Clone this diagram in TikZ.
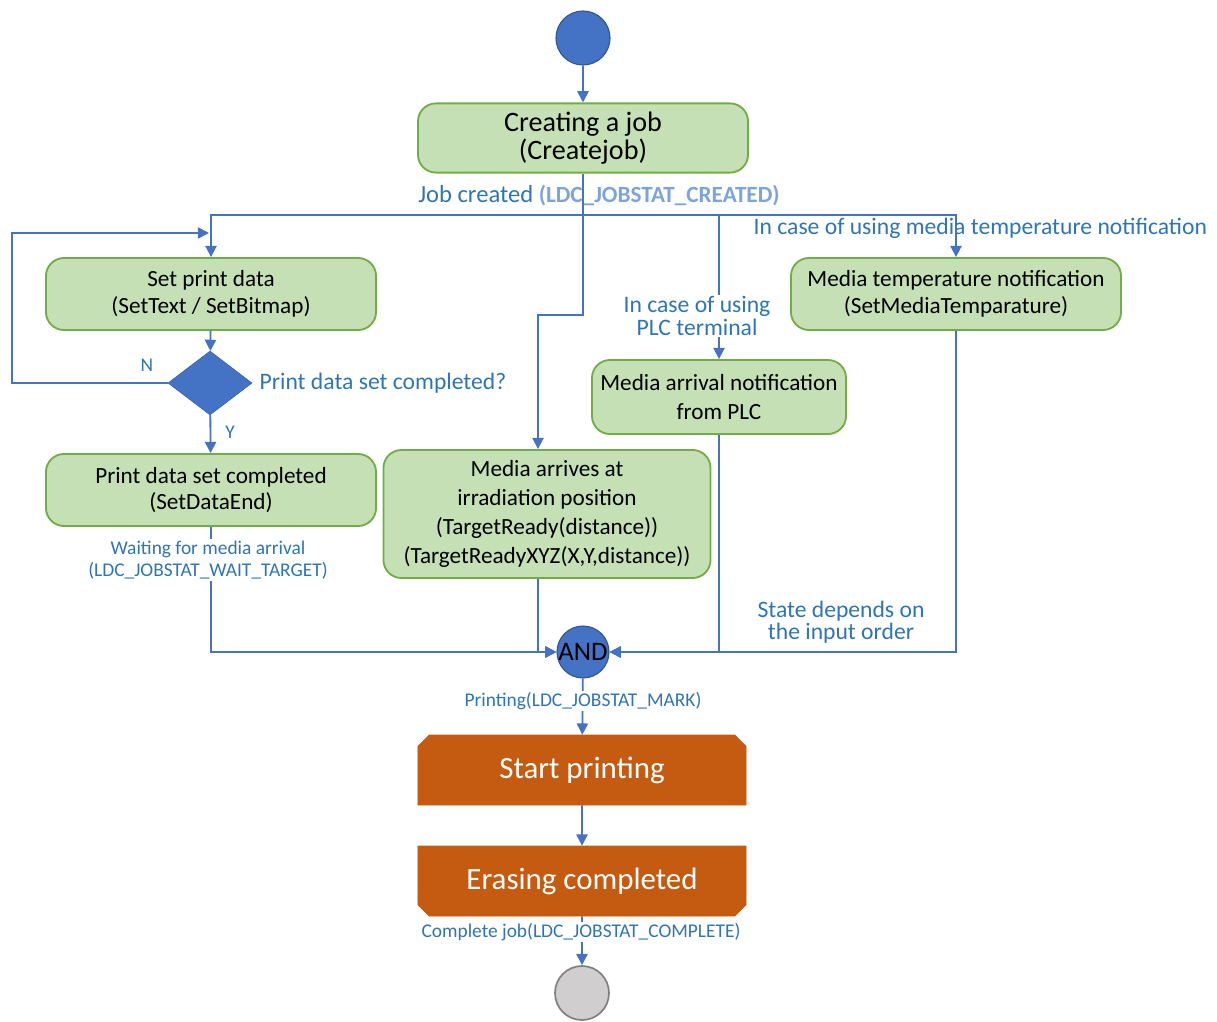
\documentclass[tikz,border=0pt]{standalone}
\usepackage{fontspec}
\setmainfont{Carlito}
\usepackage{tikz}
\usetikzlibrary{arrows.meta, shapes.geometric, shapes.misc}
\usepackage{xcolor}
\definecolor{flowblue}{HTML}{4472C4}
\definecolor{notetext}{HTML}{2E75B6}
\definecolor{statetext}{HTML}{7BA3DC}
\definecolor{boxfill}{HTML}{C5E0B4}
\definecolor{boxline}{HTML}{70AD47}
\definecolor{actfill}{HTML}{C55A11}
\definecolor{endfill}{HTML}{D0CECE}
\newcommand{\fsz}[2]{\fontsize{#1}{#2}\selectfont}

\begin{document}
\begin{tikzpicture}[x=0.025cm, y=-0.025cm,
  flow/.style={draw=flowblue, line width=1.3pt, -{Triangle[length=8pt,width=8pt]}},
  link/.style={draw=flowblue, line width=1.3pt},
  act/.style={draw=boxline, line width=1.3pt, fill=boxfill, rounded corners=0.45cm, align=center, inner sep=1pt, font=\fsz{16.5}{18.8}},
  state/.style={chamfered rectangle, draw=actfill, fill=actfill, text=white, minimum width=8.2cm, minimum height=1.75cm, chamfered rectangle xsep=0.14cm, chamfered rectangle ysep=0.14cm, font=\fsz{22}{24}},
  note/.style={text=notetext, align=center, inner sep=1pt, font=\fsz{16.8}{15.8}},
  small/.style={text=notetext, align=center, inner sep=1pt, font=\fsz{13.8}{16}},
  dot/.style={circle, draw=flowblue!75!black, fill=flowblue, line width=0.8pt, inner sep=0},
  decision/.style={diamond, draw=flowblue!85!black, fill=flowblue, minimum width=2.1cm, minimum height=1.6cm, inner sep=0}
]
\useasboundingbox (0,0) rectangle (1217,1021);

\node[dot, minimum size=1.35cm] (start) at (583,38) {};
\node[act, minimum width=8.25cm, minimum height=1.73cm, font=\fsz{20}{19.5}] (create) at (583,138) {Creating a job\\(Createjob)};
\node[act, minimum width=8.25cm, minimum height=1.8cm] (setdata) at (211,294) {Set print data\\(SetText / SetBitmap)};
\node[decision] (check) at (210,383) {};
\node[act, minimum width=8.25cm, minimum height=1.8cm] (dataend) at (211,490) {Print data set completed\\(SetDataEnd)};
\node[act, minimum width=8.175cm, minimum height=3.2cm, font=\fsz{16.5}{20.6}] (arrive) at (547,514) {Media arrives at\\irradiation position\\(TargetReady(distance))\\(TargetReadyXYZ(X,Y,distance))};
\node[act, minimum width=6.35cm, minimum height=1.85cm, font=\fsz{16.5}{21.3}] (plc) at (719,397) {Media arrival notification\\from PLC};
\node[act, minimum width=8.25cm, minimum height=1.8cm] (temp) at (956,294) {Media temperature notification\\(SetMediaTemparature)};
\node[dot, minimum size=1.1cm, font=\fsz{19}{19}] (and) at (583,652) {AND};
\node[state, chamfered rectangle corners={north west,north east}] (print) at (582,770) {Start printing};
\node[state, chamfered rectangle corners={south west,south east}] (erase) at (582,881) {Erasing completed};
\node[circle, draw=gray, fill=endfill, line width=1.2pt, minimum size=1.35cm] (finish) at (582,993) {};

% labels under the lines
\node[anchor=west, inner sep=0, text=notetext, font=\fsz{17.5}{16}] (createdlbl) at (418,196) {Job created \textcolor{statetext}{\fsz{16.5}{16}\bfseries(LDC\_JOBSTAT\_CREATED)}};
\node[note, anchor=west] (templbl) at (752,228) {In case of using media temperature notification};
\node[note, anchor=west] (checklbl) at (258,383) {Print data set completed?};
\node[small] (nlbl) at (147,365) {N};
\node[small] (ylbl) at (230,432) {Y};
\node[note] (orderlbl) at (841,622) {State depends on\\the input order};

\coordinate (split) at (583,215);
\coordinate (loopin) at (209,233);
\draw[flow] (start) -- (create);
\draw[link] (create) -- (split);
\draw[flow] (split) -| (setdata.north);
\draw[flow] (split) -| (plc.north);
\draw[flow] (split) -| (temp.north);
\draw[flow] (split) -- (583,315) -| ([xshift=-0.225cm]arrive.north);
\draw[flow] (setdata) -- (check);
\draw[flow] (check.west) -- ++(-156,0) |- (loopin);
\draw[flow] (check) -- (dataend);
\draw[flow] (dataend) |- (and.west);
\draw[flow] ([xshift=-0.225cm]arrive.south) |- (and.west);
\draw[flow] (temp) |- (and.east);
\draw[flow] (plc) |- (and.east);
\draw[flow] (and) -- (print);
\draw[flow] (print) -- (erase);
\draw[flow] (erase) -- (finish);

% labels over the lines
\node[note, fill=white] (plclbl) at (697,316) {In case of using\\PLC terminal};
\node[small, fill=white] (waitlbl) at (208,560) {Waiting for media arrival\\(LDC\_JOBSTAT\_WAIT\_TARGET)};
\node[small, fill=white] (marklbl) at (583,701) {Printing(LDC\_JOBSTAT\_MARK)};
\node[small, fill=white] (donelbl) at (581,932) {Complete job(LDC\_JOBSTAT\_COMPLETE)};
\end{tikzpicture}
\end{document}
